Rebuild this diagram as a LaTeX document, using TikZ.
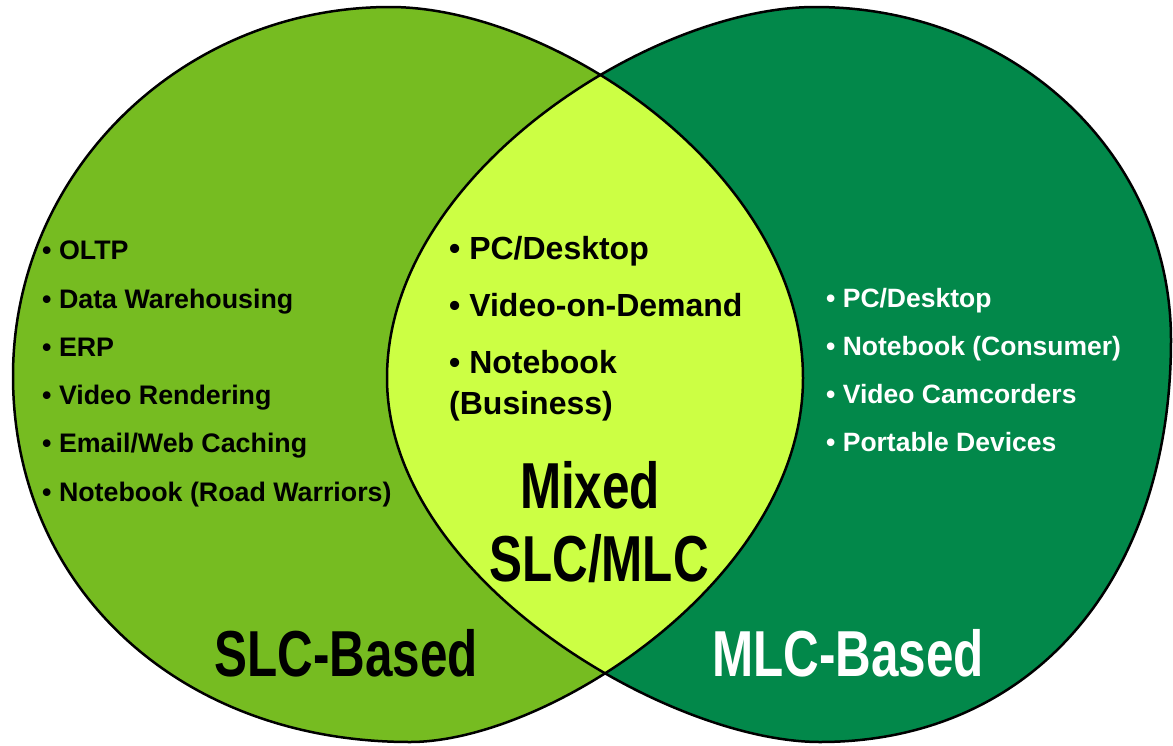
\documentclass[tikz,border=0pt]{standalone}
\usepackage{fontspec}
\setmainfont{Liberation Sans}
\newfontfamily\condfont[FakeStretch=0.76]{Liberation Sans}
\definecolor{slc}{HTML}{76BC21}
\definecolor{mlc}{HTML}{02884A}
\definecolor{mix}{HTML}{CCFF44}
\tikzset{
  lefttxt/.style={anchor=base west, inner sep=0pt, font=\bfseries\fontsize{26.8}{26.8}\selectfont, text=black},
  midtxt/.style={anchor=base west, inner sep=0pt, font=\bfseries\fontsize{32}{32}\selectfont, text=black},
  righttxt/.style={anchor=base west, inner sep=0pt, font=\bfseries\fontsize{26.5}{26.5}\selectfont, text=white},
  bigtxt/.style={anchor=base, inner sep=0pt, font=\condfont\bfseries\fontsize{65}{65}\selectfont},
  outline/.style={draw=black, line width=2.5pt}
}
\def\leftpath{(390,7) .. controls (555,7) and (803,174) .. (803,378)
  .. controls (803,578) and (548,742) .. (410,742)
  .. controls (180,742) and (13,588) .. (13,376)
  .. controls (13,172) and (182,7) .. (390,7) -- cycle}
\def\rightpath{(815,7) .. controls (1014,7) and (1171,154) .. (1171,340)
  .. controls (1171,581) and (1031,742) .. (820,742)
  .. controls (668,742) and (387,578) .. (387,378)
  .. controls (387,174) and (652,7) .. (815,7) -- cycle}
\begin{document}
\begin{tikzpicture}[x=1pt,y=-1pt]
\useasboundingbox (0,0) rectangle (1173,745);
% circles
\fill[slc] \leftpath;
\fill[mlc] \rightpath;
\begin{scope}
  \clip \leftpath;
  \fill[mix] \rightpath;
\end{scope}
\path[outline] \leftpath;
\path[outline] \rightpath;
% left list
\node[lefttxt] (l1) at (42,259) {• OLTP};
\node[lefttxt] (l2) at (42,308) {• Data Warehousing};
\node[lefttxt] (l3) at (42,356) {• ERP};
\node[lefttxt] (l4) at (42,404) {• Video Rendering};
\node[lefttxt] (l5) at (42,452) {• Email/Web Caching};
\node[lefttxt] (l6) at (42,501) {• Notebook (Road Warriors)};
% middle list
\node[midtxt] (m1) at (449,259) {• PC/Desktop};
\node[midtxt] (m2) at (449,316) {• Video-on-Demand};
\node[midtxt] (m3) at (449,373) {• Notebook};
\node[midtxt] (m4) at (449,414) {(Business)};
% right list
\node[righttxt] (r1) at (826,307) {• PC/Desktop};
\node[righttxt] (r2) at (826,355) {• Notebook (Consumer)};
\node[righttxt] (r3) at (826,403) {• Video Camcorders};
\node[righttxt] (r4) at (826,451) {• Portable Devices};
% big labels
\node[bigtxt, text=black] (mixed) at (590,508) {Mixed};
\node[bigtxt, text=black] (slcmlc) at (599,581) {SLC/MLC};
\node[bigtxt, text=black] (slcb) at (346,676) {SLC-Based};
\node[bigtxt, text=white] (mlcb) at (848,676) {MLC-Based};
\end{tikzpicture}
\end{document}
